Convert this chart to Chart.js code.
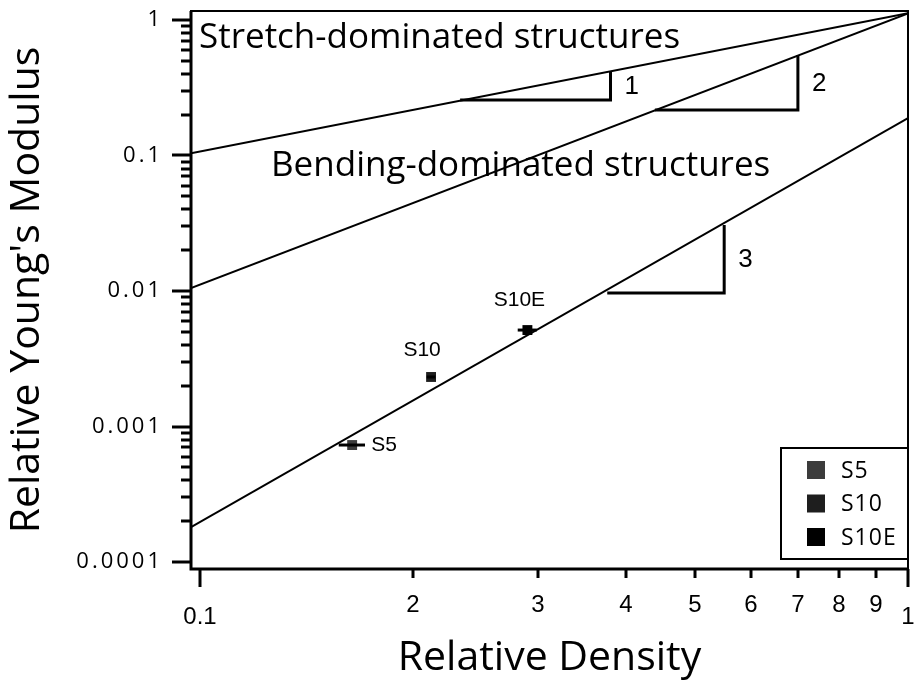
<!DOCTYPE html>
<html>
<head>
<meta charset="utf-8">
<script src="https://cdn.jsdelivr.net/npm/chart.js@4.4.0/dist/chart.umd.min.js"></script>
<style>
  html, body { margin: 0; padding: 0; background: #fff; }
  #wrap { width: 915px; height: 683px; }
</style>
</head>
<body>
<div id="wrap"><canvas id="modulusChart"></canvas></div>
<script>
// measured samples
const sampleNames = ['S5', 'S10', 'S10E'];
const sampleDensity = [0.164, 0.212, 0.290];
const sampleModulus = [0.00073, 0.00232, 0.00515];
const densityLow = [0.157, 0.209, 0.281];
const densityHigh = [0.171, 0.215, 0.299];
const sampleColors = ['#3c3c3c', '#1e1e1e', '#000000'];

// scaling lines, end points
const lineDensity = [0.0971, 1.0];
const stretchModulus = [0.104, 1.12];
const bendingModulus = [0.0105, 1.12];
const cubicModulus = [0.000181, 0.189];

// slope triangles: density [start, end], modulus [low, high]
const tri1Density = [0.233, 0.380], tri1Modulus = [0.257, 0.413];
const tri2Density = [0.439, 0.699], tri2Modulus = [0.217, 0.552];
const tri3Density = [0.376, 0.550], tri3Modulus = [0.00966, 0.0307];
const slopeLabels = ['1', '2', '3'];

// ticks
const xTickValues = [0.1, 0.2, 0.3, 0.4, 0.5, 0.6, 0.7, 0.8, 0.9, 1.0];
const xTickLabels = ['0.1', '2', '3', '4', '5', '6', '7', '8', '9', '1'];
const yMajorValues = [0.0001, 0.001, 0.01, 0.1, 1];
const yMajorLabels = ['0.0001', '0.001', '0.01', '0.1', '1'];
const yMinorSteps = [2, 3, 4, 5, 6, 7, 8, 9];

const humanist = '"Open Sans", "DejaVu Sans", sans-serif';
const helv = '"Liberation Sans", Arial, sans-serif';

function pts(xs, ys) {
    return xs.map((x, i) => ({ x: x, y: ys[i] }));
}
function triangle(xs, ys) {
    return [{ x: xs[0], y: ys[0] }, { x: xs[1], y: ys[0] }, { x: xs[1], y: ys[1] }];
}

const lineStyle = { showLine: true, borderColor: '#000', borderWidth: 2, pointRadius: 0, fill: false, tension: 0 };

const datasets = [
    Object.assign({ label: 'stretch', data: pts(lineDensity, stretchModulus) }, lineStyle),
    Object.assign({ label: 'bending', data: pts(lineDensity, bendingModulus) }, lineStyle),
    Object.assign({ label: 'cubic', data: pts(lineDensity, cubicModulus) }, lineStyle),
    Object.assign({ label: 'tri1', data: triangle(tri1Density, tri1Modulus) }, lineStyle, { borderWidth: 3 }),
    Object.assign({ label: 'tri2', data: triangle(tri2Density, tri2Modulus) }, lineStyle, { borderWidth: 3 }),
    Object.assign({ label: 'tri3', data: triangle(tri3Density, tri3Modulus) }, lineStyle, { borderWidth: 3 })
];
sampleNames.forEach((name, i) => {
    datasets.push({
        label: name,
        data: [{ x: sampleDensity[i], y: sampleModulus[i] }],
        pointStyle: 'rect',
        pointRadius: 7,
        backgroundColor: sampleColors[i],
        borderColor: sampleColors[i],
        borderWidth: 0,
        showLine: false
    });
});

// axes frame, ticks, labels, annotations and legend
const decorations = {
    id: 'decorations',
    afterDatasetsDraw(chart) {
        const { ctx, chartArea: a, scales: { x, y } } = chart;
        ctx.save();
        ctx.strokeStyle = '#000';
        ctx.fillStyle = '#000';

        // horizontal error bars on the samples
        ctx.lineWidth = 3;
        sampleNames.forEach((n, i) => {
            const py = y.getPixelForValue(sampleModulus[i]);
            ctx.beginPath();
            ctx.moveTo(x.getPixelForValue(densityLow[i]), py);
            ctx.lineTo(x.getPixelForValue(densityHigh[i]), py);
            ctx.stroke();
        });

        // frame
        ctx.lineWidth = 2;
        ctx.strokeRect(a.left, a.top, a.right - a.left, a.bottom - a.top);
        ctx.lineWidth = 3;
        ctx.beginPath();
        ctx.moveTo(a.left, a.top);
        ctx.lineTo(a.left, a.bottom);
        ctx.lineTo(a.right, a.bottom);
        ctx.stroke();

        // y ticks
        yMajorValues.forEach((v, i) => {
            const py = Math.round(y.getPixelForValue(v));
            ctx.beginPath();
            ctx.moveTo(a.left - 19, py);
            ctx.lineTo(a.left, py);
            ctx.stroke();
            if (i < yMajorValues.length - 1) {
                yMinorSteps.forEach(s => {
                    const my = Math.round(y.getPixelForValue(v * s));
                    ctx.beginPath();
                    ctx.moveTo(a.left - 10, my);
                    ctx.lineTo(a.left, my);
                    ctx.stroke();
                });
            }
        });
        ctx.font = '22px ' + humanist;
        ctx.letterSpacing = '3px';
        ctx.textAlign = 'right';
        ctx.textBaseline = 'middle';
        yMajorValues.forEach((v, i) => {
            ctx.fillText(yMajorLabels[i], a.left - 28, y.getPixelForValue(v));
        });
        ctx.letterSpacing = '0px';

        // x ticks
        ctx.font = '24px ' + helv;
        ctx.textAlign = 'center';
        xTickValues.forEach((v, i) => {
            const px = Math.round(x.getPixelForValue(v));
            const major = (i === 0 || i === xTickValues.length - 1);
            ctx.beginPath();
            ctx.moveTo(px, a.bottom);
            ctx.lineTo(px, a.bottom + (major ? 18 : 9));
            ctx.stroke();
            ctx.fillText(xTickLabels[i], px, a.bottom + (major ? 48 : 36));
        });

        // region captions
        ctx.font = '35px ' + humanist;
        ctx.textAlign = 'left';
        ctx.fillText('Stretch-dominated structures', a.left + 8, a.top + 27);
        ctx.fillText('Bending-dominated structures', a.left + 80, a.top + 155);

        // slope numbers
        ctx.font = '26px ' + helv;
        [[tri1Density, tri1Modulus], [tri2Density, tri2Modulus], [tri3Density, tri3Modulus]].forEach((t, i) => {
            const px = x.getPixelForValue(t[0][1]);
            const py = (y.getPixelForValue(t[1][0]) + y.getPixelForValue(t[1][1])) / 2;
            ctx.fillText(slopeLabels[i], px + 14, py + 1);
        });

        // sample names next to points
        ctx.font = '21px ' + helv;
        const offsets = [[19, 0, 'left'], [-9, -27, 'center'], [-8, -30, 'center']];
        sampleNames.forEach((n, i) => {
            ctx.textAlign = offsets[i][2];
            ctx.fillText(n, x.getPixelForValue(sampleDensity[i]) + offsets[i][0],
                y.getPixelForValue(sampleModulus[i]) + offsets[i][1]);
        });

        // legend box
        const lx = 781, ly = 448, lw = a.right - 781, lh = 111;
        ctx.fillStyle = '#fff';
        ctx.fillRect(lx, ly, lw, lh);
        ctx.lineWidth = 2;
        ctx.strokeRect(lx, ly, lw, lh);
        ctx.font = '23px ' + humanist;
        ctx.letterSpacing = '1px';
        ctx.textAlign = 'left';
        sampleNames.forEach((n, i) => {
            const cy = ly + 22 + i * 33.5;
            ctx.fillStyle = sampleColors[i];
            ctx.fillRect(lx + 26, cy - 9, 18, 18);
            ctx.fillStyle = '#000';
            ctx.fillText(n, lx + 60, cy + 1);
        });
        ctx.letterSpacing = '0px';
        ctx.restore();
    }
};

new Chart(document.getElementById('modulusChart'), {
    type: 'scatter',
    data: { datasets: datasets },
    options: {
        responsive: true,
        maintainAspectRatio: false,
        animation: false,
        layout: { padding: { top: 11, right: 2, left: 0, bottom: 0 } },
        plugins: {
            legend: { display: false },
            tooltip: { enabled: false }
        },
        scales: {
            x: {
                type: 'logarithmic',
                position: 'bottom',
                min: 0.0971,
                max: 1.0,
                grid: { display: false },
                border: { display: false },
                ticks: { display: false },
                title: {
                    display: true,
                    text: 'Relative Density',
                    color: '#000',
                    font: { family: humanist, size: 41 },
                    padding: { top: 0, bottom: 0 }
                },
                afterFit: s => { s.height = 114; }
            },
            y: {
                type: 'logarithmic',
                min: 0.0000888,
                max: 1.165,
                grid: { display: false },
                border: { display: false },
                ticks: { display: false },
                title: {
                    display: true,
                    text: "Relative Young's Modulus",
                    color: '#000',
                    font: { family: humanist, size: 41 },
                    padding: { top: 3, bottom: 0 }
                },
                afterFit: s => { s.width = 191; }
            }
        }
    },
    plugins: [decorations]
});
</script>
</body>
</html>
